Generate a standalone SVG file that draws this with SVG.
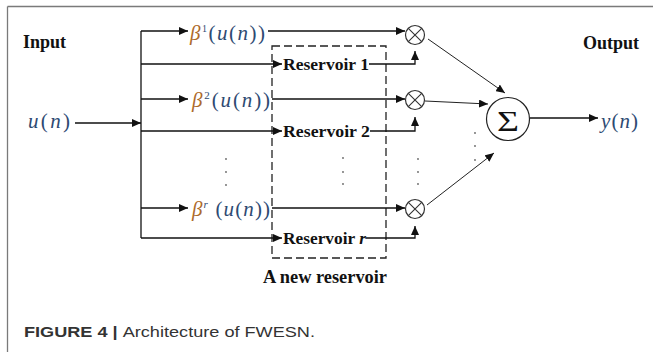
<svg xmlns="http://www.w3.org/2000/svg" width="653" height="352" viewBox="0 0 653 352">
<style>
.lbl{font-family:"Liberation Serif","Times New Roman",serif;font-weight:bold;fill:#111;}
.math{font-family:"Liberation Serif","Times New Roman",serif;font-size:21px;fill:#2e4a72;}
.beta{fill:#ad6a2c;font-style:italic;}
.it{font-style:italic;}
.ln{stroke:#111;stroke-width:1.3;fill:none;}
.arr{stroke:#111;stroke-width:1.3;fill:none;marker-end:url(#ah);}
.thin{stroke:#222;stroke-width:1;fill:none;marker-end:url(#ah);}
.mul{fill:#fff;stroke:#333;stroke-width:1.2;}
.dot{fill:#666;}
.cap{font-family:"Liberation Sans",Arial,sans-serif;font-size:15px;fill:#333;}
</style>
<defs>
<marker id="ah" markerUnits="userSpaceOnUse" markerWidth="10" markerHeight="8" refX="9" refY="4" orient="auto">
<path d="M0,0 L9,4 L0,8 z" fill="#111"/>
</marker>
</defs>
<rect width="653" height="352" fill="#fff"/>
<g id="frame" stroke="#7a7a7a" stroke-width="1.3">
<line x1="7.5" y1="6.5" x2="653" y2="6.5"/>
<line x1="7.5" y1="6.5" x2="7.5" y2="352"/>
</g>

<g id="new-reservoir">
<rect x="272" y="46" width="114" height="212" fill="none" stroke="#222" stroke-width="1.3" stroke-dasharray="8 4"/>
<text class="lbl" x="263" y="283" font-size="18" textLength="124" lengthAdjust="spacingAndGlyphs">A new reservoir</text>
</g>

<g id="connectors">
<line class="arr" x1="75" y1="123" x2="141" y2="123"/>
<line class="ln" x1="141" y1="31" x2="141" y2="238"/>
<line class="arr" x1="141" y1="31" x2="188" y2="31"/>
<line class="arr" x1="141" y1="64" x2="282" y2="64"/>
<line class="arr" x1="141" y1="99" x2="188" y2="99"/>
<line class="arr" x1="141" y1="131" x2="282" y2="131"/>
<line class="arr" x1="141" y1="208" x2="188" y2="208"/>
<line class="arr" x1="141" y1="238" x2="282" y2="238"/>
<line class="arr" x1="268" y1="31" x2="405" y2="31"/>
<line class="arr" x1="272" y1="99" x2="405" y2="99"/>
<line class="arr" x1="272" y1="208" x2="405" y2="208"/>
<path class="arr" d="M369,64 H415 V51"/>
<path class="arr" d="M370,131 H415 V117"/>
<path class="arr" d="M366,238 H415 V226"/>
<line class="thin" x1="428" y1="39" x2="505" y2="93"/>
<line class="thin" x1="425" y1="101" x2="488" y2="104"/>
<line class="thin" x1="427" y1="205" x2="494" y2="153"/>
<line class="arr" x1="530" y1="118" x2="598" y2="118"/>
</g>

<g id="input">
<text class="lbl" x="23" y="48" font-size="18">Input</text>
<text class="math" x="28" y="128" textLength="42"><tspan class="it">u</tspan>(<tspan class="it">n</tspan>)</text>
</g>

<g id="beta1">
<text class="math" x="190" y="40" textLength="75"><tspan class="beta">β</tspan><tspan font-size="10" dy="-8">1</tspan><tspan dy="8">(</tspan><tspan class="it">u</tspan>(<tspan class="it">n</tspan>))</text>
</g>
<g id="beta2">
<text class="math" x="192" y="107" textLength="78"><tspan class="beta">β</tspan><tspan font-size="11" dy="-8">2</tspan><tspan dy="8">(</tspan><tspan class="it">u</tspan>(<tspan class="it">n</tspan>))</text>
</g>
<g id="betar">
<text class="math" x="192" y="216" textLength="78"><tspan class="beta">β</tspan><tspan font-size="11" dy="-8" class="it">r</tspan><tspan dy="8"> (</tspan><tspan class="it">u</tspan>(<tspan class="it">n</tspan>))</text>
</g>

<g id="reservoir1"><text class="lbl" x="283" y="70" font-size="17" textLength="86" lengthAdjust="spacingAndGlyphs">Reservoir 1</text></g>
<g id="reservoir2"><text class="lbl" x="283" y="137" font-size="17" textLength="87" lengthAdjust="spacingAndGlyphs">Reservoir 2</text></g>
<g id="reservoirr"><text class="lbl" x="283" y="244" font-size="17" textLength="83" lengthAdjust="spacingAndGlyphs">Reservoir <tspan class="it">r</tspan></text></g>

<g id="mul1"><circle class="mul" cx="415" cy="35" r="9.5"/><path d="M408.3,28.3 L421.7,41.7 M421.7,28.3 L408.3,41.7" stroke="#333" stroke-width="1.1"/></g>
<g id="mul2"><circle class="mul" cx="415" cy="100" r="9.5"/><path d="M408.3,93.3 L421.7,106.7 M421.7,93.3 L408.3,106.7" stroke="#333" stroke-width="1.1"/></g>
<g id="mul3"><circle class="mul" cx="415" cy="209" r="9.5"/><path d="M408.3,202.3 L421.7,215.7 M421.7,202.3 L408.3,215.7" stroke="#333" stroke-width="1.1"/></g>

<g id="sum">
<circle cx="508" cy="119" r="21.5" fill="#fff" stroke="#222" stroke-width="1.2"/>
<text x="508" y="131" text-anchor="middle" font-family="'Liberation Serif','Times New Roman',serif" font-size="30" fill="#111" textLength="22" lengthAdjust="spacingAndGlyphs">Σ</text>
</g>

<g id="output">
<text class="lbl" x="583" y="49" font-size="18">Output</text>
<text class="math" x="601" y="128" textLength="37"><tspan class="it">y</tspan>(<tspan class="it">n</tspan>)</text>
</g>

<g id="ellipses">
<circle class="dot" cx="226" cy="159" r="0.9"/><circle class="dot" cx="226" cy="172" r="0.9"/><circle class="dot" cx="226" cy="185" r="0.9"/>
<circle class="dot" cx="343" cy="158" r="0.9"/><circle class="dot" cx="343" cy="172" r="0.9"/><circle class="dot" cx="343" cy="184" r="0.9"/>
<circle class="dot" cx="418" cy="159" r="0.9"/><circle class="dot" cx="418" cy="172" r="0.9"/><circle class="dot" cx="418" cy="184" r="0.9"/>
<circle class="dot" cx="475" cy="133" r="0.9"/><circle class="dot" cx="475" cy="146" r="0.9"/><circle class="dot" cx="475" cy="160" r="0.9"/>
</g>

<g id="caption">
<text class="cap" x="24" y="337" textLength="291" lengthAdjust="spacingAndGlyphs"><tspan font-weight="bold">FIGURE 4 | </tspan>Architecture of FWESN.</text>
</g>
</svg>
